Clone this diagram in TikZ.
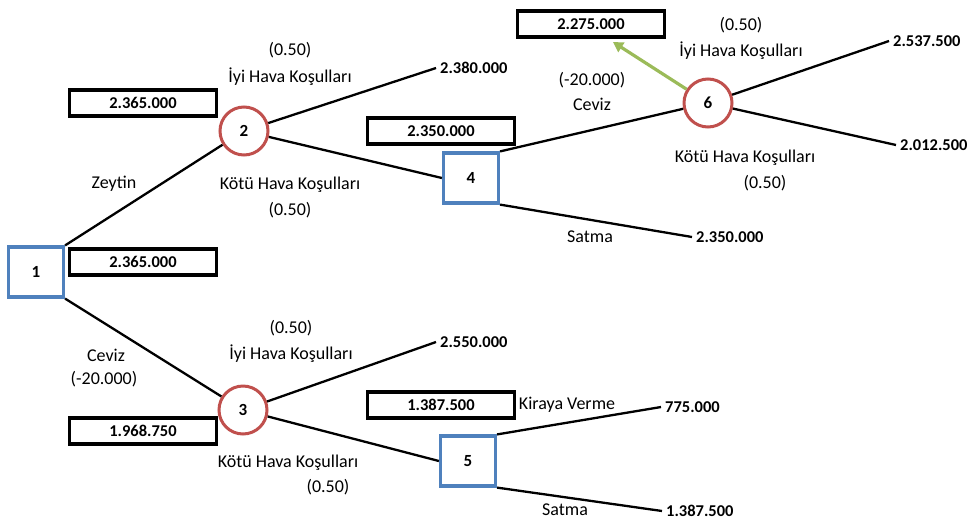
\documentclass[tikz,border=0pt]{standalone}
\usepackage{fontspec}
\setmainfont{Carlito}
\usetikzlibrary{arrows.meta}
\definecolor{sqblue}{RGB}{79,129,189}
\definecolor{cired}{RGB}{192,80,77}
\definecolor{argreen}{RGB}{155,187,89}
\tikzset{
  every node/.style={font=\fontsize{18}{21}\selectfont},
  decbox/.style={draw=sqblue, line width=3.2pt, minimum width=55pt, minimum height=50pt, inner sep=0pt, font=\fontsize{17}{20}\selectfont\bfseries},
  chance/.style={draw=cired, line width=3pt, circle, minimum size=48pt, inner sep=0pt, font=\fontsize{17}{20}\selectfont\bfseries},
  valbox/.style={draw=black, line width=3.4pt, minimum width=147pt, minimum height=26pt, inner sep=0pt, font=\fontsize{16.5}{19}\selectfont\bfseries},
  term/.style={anchor=west, inner sep=4pt, font=\fontsize{16.5}{19}\selectfont\bfseries},
  lbl/.style={inner sep=0pt},
  conn/.style={line width=2.3pt, black},
}
\begin{document}
\begin{tikzpicture}[x=1pt,y=-1pt]
\useasboundingbox (0,0) rectangle (974,520);
% decision and chance nodes
\node[decbox] (n1) at (36,272) {1};
\node[chance] (n2) at (244,131) {2};
\node[chance] (n3) at (243,410) {3};
\node[decbox] (n4) at (471,178) {4};
\node[decbox] (n5) at (468,461) {5};
\node[chance] (n6) at (708,103) {6};
% value boxes
\node[valbox] (v1) at (143,103) {2.365.000};
\node[valbox] (v2) at (143,262) {2.365.000};
\node[valbox] (v3) at (143,431) {1.968.750};
\node[valbox] (v4) at (441,131) {2.350.000};
\node[valbox] (v5) at (441,405) {1.387.500};
\node[valbox] (v6) at (591,24) {2.275.000};
% terminal values
\node[term] (t1) at (436,68) {2.380.000};
\node[term] (t2) at (692,237) {2.350.000};
\node[term] (t3) at (889,41) {2.537.500};
\node[term] (t4) at (896,145) {2.012.500};
\node[term] (t5) at (436,342) {2.550.000};
\node[term] (t6) at (661,407) {775.000};
\node[term] (t7) at (662,511) {1.387.500};
% labels
\node[lbl] (l1) at (114,184) {Zeytin};
\node[lbl] (l2) at (290,50) {(0.50)};
\node[lbl] (l3) at (290,77) {İyi Hava Koşulları};
\node[lbl] (l4) at (290,185) {Kötü Hava Koşulları};
\node[lbl] (l5) at (290,210) {(0.50)};
\node[lbl] (l6) at (592,80) {(-20.000)};
\node[lbl] (l7) at (592,104) {Ceviz};
\node[lbl] (l8) at (590,237) {Satma};
\node[lbl] (l9) at (741,25) {(0.50)};
\node[lbl] (l10) at (741,51) {İyi Hava Koşulları};
\node[lbl] (l11) at (745,158) {Kötü Hava Koşulları};
\node[lbl] (l12) at (765,183) {(0.50)};
\node[lbl] (l13) at (106,355) {Ceviz};
\node[lbl] (l14) at (104,379) {(-20.000)};
\node[lbl] (l15) at (291,328) {(0.50)};
\node[lbl] (l16) at (291,354) {İyi Hava Koşulları};
\node[lbl] (l17) at (288,463) {Kötü Hava Koşulları};
\node[lbl] (l18) at (328,487) {(0.50)};
\node[lbl] (l19) at (567,405) {Kiraya Verme};
\node[lbl] (l20) at (565,510) {Satma};
% connectors
\draw[conn] (n1.north east) -- (n2);
\draw[conn] (n1.south east) -- (n3);
\draw[conn] (n2) -- (t1.west);
\draw[conn] (n2) -- (n4.west);
\draw[conn] (n4.north east) -- (n6);
\draw[conn] (n4.south east) -- (t2.west);
\draw[conn] (n6) -- (t3.west);
\draw[conn] (n6) -- (t4.west);
\draw[conn] (n3) -- (t5.west);
\draw[conn] (n3) -- (n5.west);
\draw[conn] (n5.north east) -- (t6.west);
\draw[conn] (n5.south east) -- (t7.west);
% green arrow
\coordinate (g) at (613,42);
\draw[line width=3.2pt, argreen, -{Triangle[length=10pt,width=11pt]}] (n6) -- (g);
\end{tikzpicture}
\end{document}
